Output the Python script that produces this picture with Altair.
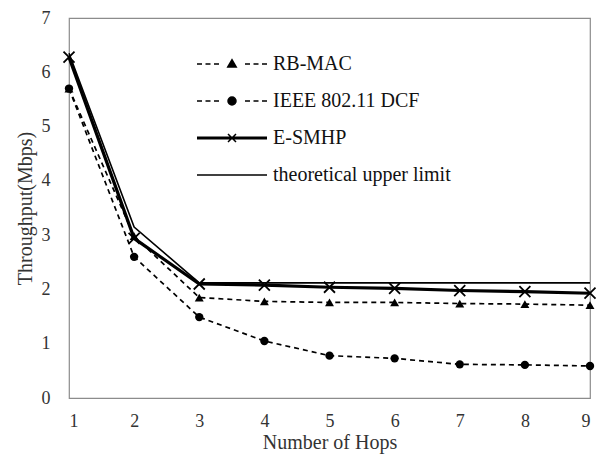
import altair as alt
import pandas as pd

hops = [1, 2, 3, 4, 5, 6, 7, 8, 9]
series_names = ["RB-MAC", "IEEE 802.11 DCF", "E-SMHP", "theoretical upper limit"]
rb_mac = [5.70, 2.98, 1.85, 1.78, 1.76, 1.76, 1.74, 1.73, 1.71]
ieee = [5.70, 2.60, 1.49, 1.05, 0.78, 0.73, 0.62, 0.61, 0.59]
esmhp = [6.28, 2.94, 2.10, 2.08, 2.04, 2.02, 1.98, 1.96, 1.93]
theory = [6.35, 3.15, 2.12, 2.12, 2.12, 2.12, 2.12, 2.12, 2.12]

rows = []
for name, vals in zip(series_names, [rb_mac, ieee, esmhp, theory]):
    for h, v in zip(hops, vals):
        rows.append({"series": name, "hop": h, "value": v})
df = pd.DataFrame(rows)

FONT = "Liberation Serif"
TXT = "#333333"

x_enc = alt.X("hop:Q", scale=alt.Scale(domain=[1, 9], nice=False, zero=False),
              axis=alt.Axis(values=hops, title="Number of Hops", format="d",
                            grid=False, domain=False, ticks=False, tickSize=0,
                            labelPadding=14, titlePadding=2))
y_enc = alt.Y("value:Q", scale=alt.Scale(domain=[0, 7], nice=False),
              axis=alt.Axis(values=[0, 1, 2, 3, 4, 5, 6, 7], title="Throughput(Mbps)",
                            grid=False, domain=False, ticks=False, tickSize=0,
                            labelPadding=19, titlePadding=6))

base = alt.Chart(df).encode(x=x_enc, y=y_enc)

def sel(name):
    return base.transform_filter(alt.datum.series == name)

theory_line = sel("theoretical upper limit").mark_line(color="black", strokeWidth=1.6)
esmhp_line = sel("E-SMHP").mark_line(color="black", strokeWidth=3.2)
esmhp_pts = sel("E-SMHP").mark_point(shape="M-1,-1L1,1M-1,1L1,-1", size=121, filled=False,
                                     color="black", strokeWidth=1.8, opacity=1)
rb_line = sel("RB-MAC").mark_line(color="black", strokeWidth=1.7, strokeDash=[5, 4])
rb_pts = sel("RB-MAC").mark_point(shape="triangle-up", size=80, filled=True, color="black", opacity=1)
ieee_line = sel("IEEE 802.11 DCF").mark_line(color="black", strokeWidth=1.7, strokeDash=[5, 4])
ieee_pts = sel("IEEE 802.11 DCF").mark_point(shape="circle", size=70, filled=True, color="black", opacity=1)

# legend symbols as path shapes (unit = 10px for size 400)
def dashes():
    return ("M-3.5,0H-3.0M-2.65,0H-2.15M-1.8,0H-1.3"
            "M1.3,0H1.8M2.15,0H2.65M3.0,0H3.5")

leg_rb = dashes() + "M-0.42,0.3L0,-0.42L0.42,0.3Z"
leg_ieee = dashes() + "M-0.4,0A0.4,0.4 0 1,0 0.4,0A0.4,0.4 0 1,0 -0.4,0Z"
leg_es = "M-3.5,-0.08H3.5M-3.5,0.08H3.5M-0.4,-0.4L0.4,0.4M-0.4,0.4L0.4,-0.4"
leg_th = "M-3.5,0H3.5"

leg = alt.Legend(title=None, orient="none", legendX=152, legendY=35,
                 symbolSize=400, labelOffset=30, rowPadding=16, labelLimit=0,
                 labelFont=FONT, labelFontSize=20, labelColor="#111111",
                 padding=0, symbolStrokeWidth=1.5, symbolOpacity=1)
black = alt.Scale(domain=series_names, range=["black"] * 4)

legend_layer = base.transform_filter(alt.datum.hop < 0).mark_point(
    filled=True, strokeWidth=1.5
).encode(
    shape=alt.Shape("series:N",
                    scale=alt.Scale(domain=series_names, range=[leg_rb, leg_ieee, leg_es, leg_th]),
                    legend=leg),
    fill=alt.Fill("series:N", scale=black, legend=leg),
    stroke=alt.Stroke("series:N", scale=black, legend=leg),
)

chart = alt.layer(theory_line, esmhp_line, esmhp_pts, rb_line, rb_pts, ieee_line, ieee_pts,
                  legend_layer).properties(
    width=521, height=380,
    autosize=alt.AutoSizeParams(type="none"),
    padding={"left": 61, "top": 10, "right": 11, "bottom": 56},
    background="white",
).configure_view(
    stroke="#8c8c8c", strokeWidth=1.2
).configure_axis(
    labelFont=FONT, titleFont=FONT, labelFontSize=18, titleFontSize=20,
    labelColor=TXT, titleColor=TXT, titleFontWeight="normal"
)

chart.save("out.html", embed_options={"renderer": "svg", "actions": False})
